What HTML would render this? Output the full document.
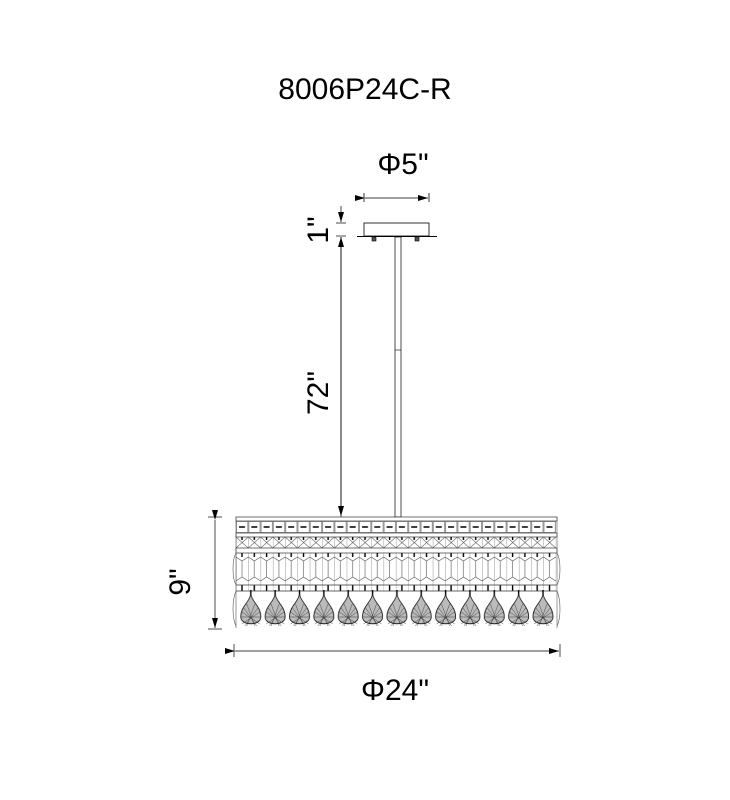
<!DOCTYPE html>
<html><head><style>
html,body{margin:0;padding:0;background:#fff;}
svg{display:block;}
text{font-family:"Liberation Sans",Arial,sans-serif;fill:#000;}
</style></head><body>
<svg width="730" height="800" viewBox="0 0 730 800" xmlns="http://www.w3.org/2000/svg">
<defs>
<marker id="ar" markerWidth="10" markerHeight="6" refX="10" refY="3" orient="auto" markerUnits="userSpaceOnUse">
<path d="M0,0 L10,3 L0,6 Z" fill="#000"/></marker>
<pattern id="boxes" x="236" y="521" width="12.3" height="12" patternUnits="userSpaceOnUse">
<rect x="0.5" y="0.5" width="11.3" height="11" fill="none" stroke="#555" stroke-width="0.6"/>
<line x1="3" y1="6" x2="9" y2="6" stroke="#000" stroke-width="1.5"/>
</pattern>
<pattern id="xs" x="236" y="537" width="12.3" height="11" patternUnits="userSpaceOnUse">
<path d="M0,0 L12.3,11 M12.3,0 L0,11 M0,0 V11" stroke="#555" stroke-width="0.6" fill="none"/>
<line x1="6" y1="-1" x2="6" y2="3" stroke="#000" stroke-width="1.4"/>
</pattern>
<pattern id="tall" x="236" y="553" width="12.3" height="32" patternUnits="userSpaceOnUse">
<path d="M0,4 L6,8 L12.3,4 M0,28 L6,24 L12.3,28 M0,0 V32 M6,8 V24" stroke="#555" stroke-width="0.6" fill="none"/>
<line x1="6" y1="0" x2="6" y2="4" stroke="#000" stroke-width="1.4"/>
</pattern>
<pattern id="tick" x="236" y="585" width="12.3" height="6" patternUnits="userSpaceOnUse">
<line x1="6" y1="0" x2="6" y2="6" stroke="#000" stroke-width="1.4"/>
<line x1="0" y1="0" x2="0" y2="6" stroke="#777" stroke-width="0.6"/>
</pattern>
<pattern id="drops" x="238.8" y="590" width="24.35" height="40" patternUnits="userSpaceOnUse">
<line x1="12" y1="0" x2="12" y2="6" stroke="#000" stroke-width="1.4"/>
<path d="M12,4 C13,12 22,16 22,27 C22,36 2,36 2,27 C2,16 11,12 12,4 Z" fill="#bbb" stroke="#222" stroke-width="0.9"/>
<path d="M3,22 L21,34 M21,22 L3,34 M2,27 L22,27 M5,18 L18,36 M19,18 L6,36 M8,14 L16,36 M16,14 L8,36" stroke="#333" stroke-width="0.45"/>
</pattern>
</defs>

<text x="365" y="99" font-size="30" text-anchor="middle">8006P24C-R</text>
<text x="403" y="174" font-size="30" text-anchor="middle">Φ5"</text>
<text x="395" y="700" font-size="30" text-anchor="middle">Φ24"</text>
<text transform="translate(328,230) rotate(-90)" font-size="30" text-anchor="middle">1"</text>
<text transform="translate(328,393) rotate(-90)" font-size="30" text-anchor="middle">72"</text>
<text transform="translate(190,582) rotate(-90)" font-size="30" text-anchor="middle">9"</text>

<line x1="364" y1="193" x2="364" y2="202" stroke="#000" stroke-width="0.8"/>
<line x1="429" y1="193" x2="429" y2="202" stroke="#000" stroke-width="0.8"/>
<line x1="365" y1="198" x2="428" y2="198" stroke="#000" stroke-width="0.8" marker-start="url(#ar)" marker-end="url(#ar)"/>
<rect x="364" y="223" width="65" height="13" fill="#fff" stroke="#000" stroke-width="0.8"/>
<line x1="357" y1="236.5" x2="437" y2="236.5" stroke="#000" stroke-width="1"/>
<rect x="372" y="237" width="4" height="4" fill="#555" stroke="#000" stroke-width="0.6"/>
<rect x="415" y="237" width="4" height="4" fill="#555" stroke="#000" stroke-width="0.6"/>
<rect x="395" y="237" width="6" height="280" fill="#fff" stroke="#000" stroke-width="0.7"/>
<line x1="395" y1="350" x2="401" y2="350" stroke="#000" stroke-width="0.6"/>
<line x1="336" y1="223" x2="346" y2="223" stroke="#000" stroke-width="0.7"/>
<line x1="336" y1="236" x2="346" y2="236" stroke="#000" stroke-width="0.7"/>
<line x1="341" y1="206" x2="341" y2="222" stroke="#000" stroke-width="0.7" marker-end="url(#ar)"/>
<line x1="341" y1="517" x2="341" y2="237" stroke="#000" stroke-width="0.7" marker-end="url(#ar)"/>
<line x1="341" y1="237" x2="341" y2="516" stroke="#000" stroke-width="0.7" marker-end="url(#ar)"/>

<rect x="236" y="517" width="321" height="4" fill="#fff" stroke="#333" stroke-width="0.7"/>
<rect x="236" y="521" width="320" height="12" fill="url(#boxes)"/>
<rect x="236" y="533" width="321" height="4" fill="#fff" stroke="#333" stroke-width="0.7"/>
<rect x="236" y="537" width="320" height="11" fill="url(#xs)"/>
<rect x="236" y="548" width="321" height="5" fill="#fff" stroke="#333" stroke-width="0.7"/>
<rect x="236" y="553" width="320" height="32" fill="url(#tall)"/>
<rect x="236" y="585" width="320" height="6" fill="url(#tick)"/>
<line x1="236" y1="585" x2="557" y2="585" stroke="#333" stroke-width="0.7"/>
<line x1="236" y1="591" x2="557" y2="591" stroke="#333" stroke-width="0.7"/>
<rect x="238.8" y="590" width="316.5" height="40" fill="url(#drops)"/>
<path d="M236,553 C232,560 232,578 236,585 M557,553 C561,560 561,578 557,585 M236,591 C232,600 232,618 236,626 M557,591 C561,600 561,618 557,626" stroke="#555" stroke-width="0.6" fill="none"/>
<line x1="236" y1="517" x2="236" y2="628" stroke="#555" stroke-width="0.6"/>
<line x1="557" y1="517" x2="557" y2="628" stroke="#555" stroke-width="0.6"/>

<line x1="208" y1="517" x2="222" y2="517" stroke="#000" stroke-width="0.7"/>
<line x1="208" y1="629" x2="222" y2="629" stroke="#000" stroke-width="0.7"/>
<line x1="215" y1="520" x2="215" y2="628" stroke="#000" stroke-width="0.7" marker-start="url(#ar)" marker-end="url(#ar)"/>
<line x1="234" y1="644" x2="234" y2="657" stroke="#000" stroke-width="0.7"/>
<line x1="560" y1="644" x2="560" y2="657" stroke="#000" stroke-width="0.7"/>
<line x1="235" y1="651" x2="559" y2="651" stroke="#000" stroke-width="0.7" marker-start="url(#ar)" marker-end="url(#ar)"/>
</svg>
</body></html>
